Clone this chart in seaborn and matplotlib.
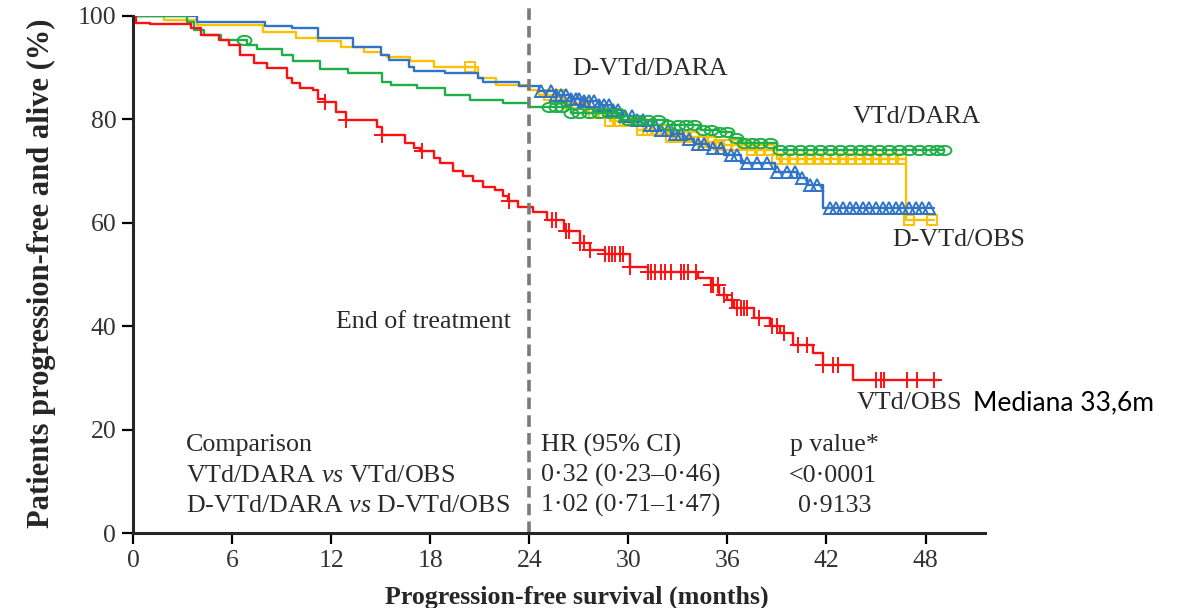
import numpy as np
import pandas as pd
import seaborn as sns
import matplotlib.pyplot as plt

# Kaplan-Meier steps (months, % progression-free and alive)
red_t = [0, 0.2, 1.0, 3.5, 4.1, 5.2, 5.8, 6.5, 7.3, 8.1, 9.3, 9.6, 10.1, 10.9, 11.2, 11.6,
         12.3, 12.9, 14.8, 15.1, 16.5, 17.0, 17.4, 18.2, 18.6, 19.4, 20.0, 20.6, 21.2, 21.9,
         22.4, 22.7, 23.3, 24.2, 25.1, 26.1, 27.1, 27.7, 28.6, 30.1, 31.2, 34.2, 35.0, 35.5,
         36.0, 36.4, 37.6, 38.6, 39.2, 40.0, 41.2, 41.8, 43.6, 48.9]
red_s = [100, 98.7, 98.4, 97.6, 96.3, 95.4, 94.4, 92.5, 90.9, 89.9, 88.0, 87.0, 86.0, 85.7, 84.0, 83.4,
         81.5, 79.9, 78.5, 77.0, 75.5, 74.5, 73.9, 72.5, 71.5, 70.0, 69.0, 68.0, 67.0, 66.3,
         65.2, 64.3, 63.1, 62.0, 60.5, 58.5, 56.0, 54.7, 54.0, 51.5, 50.5, 49.3, 48.0, 46.0,
         45.0, 43.5, 41.6, 40.0, 38.7, 36.4, 34.8, 32.5, 29.6, 29.6]
red_cens = [11.6, 12.9, 15.1, 17.5, 22.8, 25.4, 25.6, 26.2, 26.4, 27.1, 27.3, 27.7, 28.6, 28.8,
            29.0, 29.2, 29.5, 29.7, 30.1, 31.2, 31.4, 31.6, 32.0, 32.2, 32.6, 33.2, 33.4, 33.6,
            34.1, 35.0, 35.1, 35.4, 35.8, 36.3, 36.6, 36.8, 37.0, 37.2, 37.9, 38.7, 39.0, 39.4,
            40.3, 40.8, 41.8, 42.4, 42.7, 45.0, 45.3, 45.5, 46.9, 47.5, 48.5]

blue_t = [0, 3.9, 8.0, 9.6, 11.2, 13.3, 15.0, 15.5, 16.7, 17.0, 18.9, 20.9, 21.2, 23.4,
          24.6, 25.6, 26.5, 27.3, 28.2, 29.0, 29.6, 30.3, 31.0, 31.8, 32.6, 33.3, 34.0, 34.9,
          35.8, 36.8, 38.9, 40.2, 40.8, 41.8, 48.5]
blue_s = [100, 98.9, 98.1, 97.6, 95.7, 94.0, 92.5, 91.5, 90.1, 89.4, 89.0, 88.0, 87.2, 86.5,
          85.5, 84.8, 84.0, 83.5, 82.8, 81.8, 80.6, 79.8, 78.9, 78.0, 77.2, 76.3, 75.3, 74.4,
          73.1, 71.6, 69.8, 68.6, 67.3, 62.9, 62.9]
blue_cens = [24.7, 25.3, 25.6, 25.9, 26.2, 26.5, 26.8, 27.0, 27.3, 27.6, 27.9, 28.2, 28.5, 28.8,
             29.1, 29.4, 29.8, 30.2, 30.5, 30.9, 31.3, 31.6, 32.0, 32.4, 32.8, 33.2, 33.7, 34.2,
             34.6, 35.1, 35.6, 36.2, 36.6, 37.2, 37.8, 38.4, 39.0, 39.6, 40.1, 40.5, 41.0, 41.4,
             42.2, 42.6, 43.0, 43.4, 43.8, 44.2, 44.6, 45.0, 45.4, 45.8, 46.2, 46.6, 47.0, 47.4,
             47.8, 48.2]

yel_t = [0, 1.9, 3.9, 7.9, 9.9, 11.2, 12.6, 14.0, 15.0, 15.4, 16.8, 18.2, 20.9, 22.0, 23.9,
         24.6, 25.9, 27.5, 28.9, 30.5, 32.5, 34.2, 35.5, 37.2, 39.0, 46.8, 48.5]
yel_s = [100, 99.2, 98.3, 97.0, 95.7, 95.2, 94.0, 93.0, 92.5, 92.0, 91.2, 90.2, 88.0, 86.7, 85.7,
         84.7, 83.2, 81.2, 79.6, 78.0, 76.6, 75.6, 75.0, 74.1, 72.3, 60.5, 60.5]
yel_cens = [20.4, 25.2, 25.8, 26.3, 26.9, 27.4, 27.9, 28.4, 28.9, 29.4, 29.8, 30.3, 30.8, 31.2,
            31.7, 32.1, 32.6, 33.0, 33.5, 34.0, 34.5, 35.0, 35.5, 36.0, 36.5, 37.0, 37.5, 38.0,
            38.5, 39.0, 39.5, 40.0, 40.5, 41.0, 41.5, 42.0, 42.5, 43.0, 43.5, 44.0, 44.5, 45.0,
            45.5, 46.0, 46.5, 47.0, 48.4]

grn_t = [0, 3.3, 3.7, 4.3, 5.3, 6.9, 7.5, 9.0, 9.7, 11.3, 13.0, 15.1, 15.6, 17.2, 18.9, 20.4,
         22.4, 24.0, 26.5, 29.5, 32.4, 34.4, 35.5, 36.3, 36.8, 39.0, 49.1]
grn_s = [100, 98.9, 97.3, 96.3, 95.4, 94.4, 93.7, 92.5, 91.2, 89.8, 89.0, 87.2, 86.7, 86.1, 84.7,
         83.8, 83.2, 82.4, 81.2, 79.9, 78.9, 78.0, 77.5, 76.4, 75.4, 74.1, 74.1]
grn_cens = [6.7, 25.2, 25.6, 26.0, 26.5, 27.0, 27.6, 28.2, 28.8, 29.4, 30.0, 30.6, 31.2, 31.8,
            32.4, 33.0, 33.5, 34.0, 34.5, 35.0, 35.5, 36.0, 36.5, 37.0, 37.5, 38.0, 38.6, 39.2,
            39.8, 40.4, 41.0, 41.6, 42.2, 42.8, 43.4, 44.0, 44.6, 45.2, 45.8, 46.4, 47.0, 47.6,
            48.2, 48.7, 49.1]

BLUE, YEL, GRN, RED = "#2F74C6", "#FFC000", "#1FAE48", "#FF1010"

sns.set_theme(style='ticks')
plt.rcParams['font.family'] = ['Liberation Serif', 'DejaVu Serif']
plt.rcParams['mathtext.fontset'] = 'custom'
plt.rcParams['mathtext.rm'] = 'Liberation Serif'
plt.rcParams['mathtext.it'] = 'Liberation Serif:italic'

fig = plt.figure(figsize=(11.79, 6.08), dpi=100)
ax = fig.add_axes([133 / 1179, 1 - 533 / 608, 852 / 1179, 517 / 608])

ellipse = [(np.cos(a) * 1.5, np.sin(a)) for a in np.linspace(0, 2 * np.pi, 40)]

def cens_y(t, s, c):
    idx = np.searchsorted(t, c, side='right') - 1
    return np.array(s)[idx]

curves = [
    (yel_t, yel_s, yel_cens, YEL, 's', 7),
    (blue_t, blue_s, blue_cens, BLUE, '^', 9),
    (grn_t, grn_s, grn_cens, GRN, ellipse, 10),
    (red_t, red_s, red_cens, RED, '+', 11),
]
for t, s, c, col, mk, ms in curves:
    df = pd.DataFrame({'t': t, 's': s})
    sns.lineplot(data=df, x='t', y='s', drawstyle='steps-post', color=col, lw=1.7,
                 estimator=None, sort=False, ax=ax)
    ax.plot(c, cens_y(t, s, c), ls='none', marker=mk, ms=ms, mfc='none', mec=col, mew=1.4)

ax.axvline(24, ymin=0, ymax=1.016, color='#7a7a7a', lw=2.6, dashes=(3.2, 1.7), clip_on=False)

ax.set_xlim(0, 51.6)
ax.set_ylim(0, 100)
ax.set_xticks(range(0, 49, 6))
ax.set_yticks(range(0, 101, 20))
ax.set_xlabel('Progression-free survival (months)', fontsize=18.7, fontweight='bold', va='top')
ax.set_ylabel('Patients progression-free and alive (%)', fontsize=22, fontweight='bold', va='center')
ax.xaxis.set_label_coords(0.521, -0.102)
ax.yaxis.set_label_coords(-0.108, 0.502)
ax.tick_params(axis='both', length=8, width=1.6, labelsize=18.5, colors='black', labelcolor='#333333', pad=4)
for side in ['left', 'bottom']:
    ax.spines[side].set_linewidth(2.2)
sns.despine(ax=ax)

txt = dict(fontsize=18.7, color='#2a2a2a')
ax.text(26.6, 89.7, 'D-VTd/DARA', va='center', **txt)
ax.text(43.6, 80.4, 'VTd/DARA', va='center', **txt)
ax.text(46.0, 56.7, 'D-VTd/OBS', va='center', **txt)
ax.text(43.8, 25.2, 'VTd/OBS', va='center', **txt)
ax.text(12.3, 40.8, 'End of treatment', va='center', **txt)
ax.text(50.9, 25.2, 'Mediana 33,6m', va='center', fontsize=19, color='black', family=['Lato', 'DejaVu Sans'])

ax.text(3.2, 17.0, 'Comparison', va='center', **txt)
ax.text(3.2, 11.1, 'VTd/DARA $\\mathit{vs}$ VTd/OBS', va='center', **txt)
ax.text(3.2, 5.3, 'D-VTd/DARA $\\mathit{vs}$ D-VTd/OBS', va='center', **txt)
ax.text(24.7, 17.0, 'HR (95% CI)', va='center', **txt)
ax.text(24.7, 11.1, '0·32 (0·23–0·46)', va='center', **txt)
ax.text(24.7, 5.3, '1·02 (0·71–1·47)', va='center', **txt)
ax.text(39.8, 17.0, 'p value*', va='center', **txt)
ax.text(39.7, 11.1, '<0·0001', va='center', **txt)
ax.text(40.3, 5.3, '0·9133', va='center', **txt)

fig.savefig('out.png', dpi=100)
